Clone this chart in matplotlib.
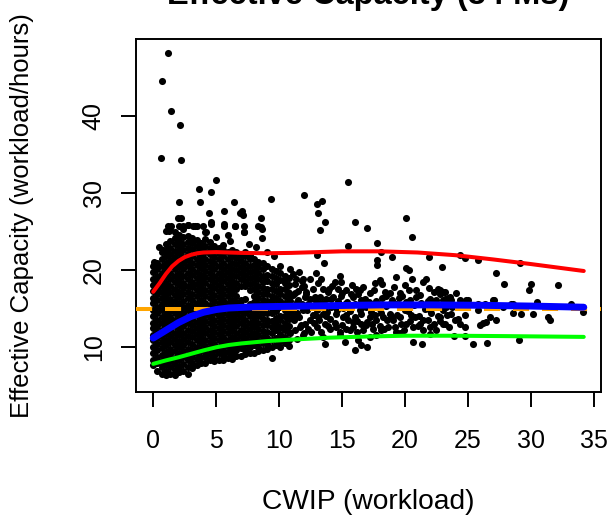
import numpy as np
import matplotlib
matplotlib.use("Agg")
import matplotlib.pyplot as plt

plt.rcParams['font.family'] = ['Liberation Sans', 'DejaVu Sans']

# ---------------- data ----------------
# dense cloud at low CWIP: column x-values and the y-values read in each column
blob_x = [0.00, 0.33, 0.68, 1.02, 1.37, 1.70, 2.05, 2.40, 2.75, 3.10, 3.45, 3.80,
          4.15, 4.50, 4.85, 5.20, 5.55, 5.90, 6.25, 6.60, 6.95, 7.30, 7.65, 8.00,
          8.35, 8.70, 9.05, 9.40, 9.75, 10.10, 10.45, 10.80]
blob_y = [
    "7.7 8.4 9.3 10.0 10.9 11.6 12.5 13.2 14.1 14.8 15.7 16.4 17.3 18.1 18.9 19.8 20.6",
    "6.9 7.9 8.7 9.6 10.4 11.2 12.0 12.8 13.6 14.5 15.2 16.1 16.9 17.6 18.5 19.2 20.1 21.0",
    "6.5 7.4 8.2 9.0 9.9 10.7 11.5 12.3 13.2 13.9 14.8 15.6 16.4 17.2 18.0 18.9 19.7 20.6 21.4 22.3",
    "6.4 6.9 7.8 8.6 9.4 10.3 11.0 11.9 12.7 13.5 14.3 15.1 16.0 16.8 17.6 18.4 19.2 20.1 20.9 21.8 22.6 23.4 25.1",
    "6.6 7.4 8.2 9.1 9.8 10.7 11.5 12.3 13.1 13.9 14.7 15.6 16.3 17.2 18.0 18.8 19.6 20.5 21.3 22.1 22.9 23.8 25.5",
    "6.4 7.0 7.8 8.6 9.5 10.3 11.1 11.9 12.8 13.5 14.4 15.2 16.0 16.8 17.6 18.5 19.2 20.1 20.9 21.7 22.5 23.4 24.2 25.0",
    "6.8 7.5 8.3 9.1 10.0 10.7 11.6 12.4 13.2 14.0 14.8 15.6 16.5 17.2 18.1 18.9 19.7 20.5 21.3 22.2 23.0 23.8 24.6 25.7",
    "6.9 7.8 8.7 9.5 10.3 11.1 11.9 12.8 13.6 14.4 15.2 16.0 16.9 17.7 18.4 19.3 20.1 20.9 21.7 22.6 23.4 24.3 25.4",
    "6.6 7.4 8.3 9.0 9.8 10.7 11.5 12.3 13.1 13.9 14.8 15.5 16.4 17.2 18.0 18.8 19.6 20.5 21.3 22.1 22.9 23.7 24.5 25.9",
    "7.3 8.0 8.8 9.6 10.4 11.3 12.1 12.9 13.7 14.5 15.3 16.1 16.9 17.8 18.5 19.4 20.2 21.0 21.8 22.7 23.5 24.2",
    "7.7 8.5 9.3 10.1 10.9 11.7 12.5 13.3 14.2 15.0 15.7 16.6 17.4 18.2 19.0 19.8 20.7 21.4 22.3 23.1 23.9 25.7",
    "7.9 8.8 9.6 10.5 11.3 12.1 12.9 13.7 14.5 15.4 16.2 17.0 17.8 18.6 19.4 20.3 21.1 21.8 22.7 23.5",
    "8.0 8.7 9.4 10.2 11.0 11.8 12.6 13.4 14.2 15.0 15.8 16.7 17.4 18.3 19.1 19.9 20.7 21.5 22.3 23.1 24.0 25.0",
    "8.3 9.1 9.9 10.7 11.5 12.3 13.1 13.9 14.7 15.5 16.4 17.2 18.0 18.8 19.6 20.4 21.2 22.1 22.9 23.6",
    "8.2 8.9 9.6 10.4 11.2 12.0 12.8 13.6 14.4 15.2 16.0 16.8 17.7 18.5 19.3 20.1 20.9 21.7 22.5 23.2",
    "8.4 9.3 10.1 10.9 11.7 12.5 13.3 14.1 14.9 15.7 16.5 17.3 18.1 18.9 19.7 20.5 21.4 22.2 22.9",
    "8.4 9.0 9.7 10.5 11.3 12.1 12.9 13.7 14.5 15.3 16.1 16.9 17.7 18.6 19.4 20.2 21.0 21.8 22.6 23.3",
    "8.6 9.4 10.2 11.0 11.8 12.6 13.4 14.2 15.0 15.8 16.6 17.4 18.2 19.0 19.8 20.6 21.4 22.3",
    "8.5 9.1 9.8 10.6 11.4 12.2 13.0 13.8 14.6 15.4 16.2 17.0 17.8 18.6 19.4 20.2 21.0 21.8 22.6",
    "8.9 9.6 10.3 11.1 11.9 12.7 13.5 14.3 15.1 15.9 16.7 17.5 18.4 19.2 20.0 20.8 21.6 22.3",
    "8.9 9.9 10.7 11.5 12.3 13.1 13.9 14.7 15.5 16.2 18.0 18.8 19.6 20.4 21.2 22.0",
    "9.1 9.6 10.4 11.2 12.0 12.8 13.6 14.4 15.2 16.3 17.9 18.6 19.4 20.2 21.0 21.8 22.4",
    "9.3 10.0 10.8 11.6 12.4 13.2 14.0 14.8 15.6 17.4 18.2 19.0 19.8 20.6 21.4 22.0",
    "9.2 10.3 11.1 11.9 12.7 13.5 14.3 15.1 15.9 16.7 17.5 18.3 19.1 19.9 20.7 21.5",
    "9.5 10.0 10.8 11.6 12.4 13.2 14.0 14.8 15.6 16.4 17.2 18.0 18.8 19.6 20.4 21.1",
    "9.6 10.5 11.3 12.1 12.9 13.7 14.5 15.3 16.1 16.9 17.7 18.5 19.3 20.1 20.9",
    "9.8 10.4 11.2 12.0 12.9 13.6 14.5 15.2 16.0 16.9 17.6 18.6 19.4 20.5",
    "8.6 10.1 10.9 11.9 12.6 13.4 14.4 15.1 16.0 16.7 17.5 18.3 19.3 20.1",
    "10.3 11.2 12.2 13.0 13.8 14.7 15.5 16.4 17.3 18.2 19.0 19.9",
    "10.1 10.8 11.7 12.6 13.5 14.1 15.2 16.0 16.9 17.6 18.7 19.7 20.5",
    "10.6 11.4 12.3 13.2 14.0 14.9 15.7 16.6 17.5 18.4 19.2",
    "10.2 11.0 12.0 12.8 13.7 14.6 15.4 16.3 17.1 18.1 19.0",
]

# scattered points above the dense cloud
upper_x = [1.19, 0.69, 1.40, 2.12, 0.61, 2.17, 4.97, 3.65, 4.60, 2.07, 3.71, 6.40, 9.37,
           5.61, 4.45, 6.88, 7.04, 2.20, 8.57, 1.14, 1.38, 2.38, 2.78, 3.12, 3.97, 4.58,
           5.64, 6.51, 7.23, 8.34, 8.57, 3.30, 4.20, 7.20, 8.60, 5.00, 5.90, 6.10, 7.60,
           8.20, 9.00, 9.60, 0.45, 0.75, 0.05, 0.10, 1.27, 1.95, 4.60, 5.60, 7.10, 8.60,
           6.50, 7.20]
upper_y = [48.2, 44.6, 40.6, 38.8, 34.5, 34.3, 31.7, 30.5, 30.1, 28.9, 28.9, 28.8, 29.2,
           27.7, 27.4, 27.4, 27.7, 26.8, 26.8, 25.8, 25.8, 25.8, 25.9, 25.8, 25.8, 26.0,
           25.8, 25.8, 25.8, 25.7, 25.6, 25.7, 25.0, 24.9, 24.2, 24.3, 24.6, 23.8, 23.4,
           23.0, 22.4, 21.8, 23.0, 22.6, 21.1, 20.8, 25.1, 26.8, 26.2, 26.0, 27.2, 25.4,
           25.7, 24.9]

# mid range points
mid_x = [15.48, 11.96, 13.00, 13.40, 13.05, 13.65, 13.26, 16.01, 16.99, 20.06, 20.53, 17.78,
         15.48, 12.97, 13.55, 17.78, 17.78, 18.10, 18.97, 21.90, 22.90,
         11.11, 11.38, 11.91, 12.44, 11.25, 11.78, 12.17, 12.04, 11.11, 11.51, 12.44, 12.83,
         13.36, 13.50, 13.23, 13.76, 14.29, 14.42, 14.95, 14.69, 15.35, 16.14, 16.41, 15.88,
         16.54, 15.22, 14.16, 13.50, 13.10, 12.70, 12.44, 12.04, 11.64, 11.25, 11.91, 12.97,
         13.63, 14.02, 14.55, 15.08, 15.48, 16.01, 16.54, 17.20, 17.73, 18.26, 18.79, 19.05,
         19.58, 20.11, 20.64, 21.17, 21.43, 21.96, 22.49, 23.02, 22.75, 23.28, 22.62, 23.02,
         22.49, 21.96, 21.43, 21.70, 20.90, 20.59, 20.32, 20.11, 19.98, 19.32, 18.52, 18.20,
         17.99, 18.79, 19.58, 20.37, 17.46, 16.93, 17.99, 18.65, 18.13, 17.46, 16.93, 16.54,
         15.88, 15.35, 14.82, 14.02, 17.73, 19.32, 17.20, 16.27, 15.22,
         13.68, 16.01, 16.99, 16.54, 20.64, 21.38,
         11.0, 11.4, 11.8, 12.2, 12.6, 13.0, 13.4, 13.8, 14.3, 14.7, 15.1, 15.6, 16.0, 16.4,
         16.8, 17.3, 17.7, 18.1, 18.5, 19.0, 19.4, 19.8, 20.2, 20.7, 21.1, 21.6, 22.1, 22.5,
         23.0, 23.4, 11.2, 11.7, 12.3, 12.8, 13.3, 13.9, 14.4, 15.0, 15.6, 16.2, 16.7, 17.4,
         18.0, 18.6, 19.2, 19.9, 20.4, 21.0, 21.8, 22.3, 11.5, 12.0, 12.7, 13.1, 13.9, 14.2,
         15.0, 15.8, 16.7, 17.2, 17.6, 18.4, 19.1, 19.6, 20.3, 21.2, 21.9, 22.8, 10.5, 10.9,
         11.6, 12.9, 14.8, 21.96, 22.75, 23.02, 23.55]
mid_y = [31.4, 29.8, 28.6, 29.0, 27.4, 26.2, 25.2, 26.2, 25.5, 26.8, 24.3, 23.5,
         23.1, 21.95, 20.96, 21.3, 20.7, 22.4, 21.7, 21.7, 20.4,
         19.57, 18.92, 18.92, 18.92, 18.27, 17.84, 17.19, 16.54, 16.76, 16.11, 16.32, 16.54,
         18.92, 17.62, 16.54, 16.32, 16.54, 18.49, 18.49, 17.62, 17.41, 17.62, 17.41, 16.54,
         16.11, 15.67, 15.24, 14.38, 13.94, 14.16, 13.51, 13.08, 12.65, 12.21, 11.56, 12.65,
         13.08, 13.73, 14.38, 13.94, 13.51, 13.94, 14.38, 13.94, 13.51, 13.94, 14.38, 13.51,
         13.94, 13.08, 12.65, 13.08, 12.21, 12.65, 12.21, 13.08, 13.94, 15.24, 17.62, 17.19,
         16.11, 16.32, 18.49, 18.84, 17.41, 18.88, 20.0, 20.35, 18.06, 19.14, 16.63, 18.19,
         18.71, 15.67, 15.24, 16.11, 15.67, 15.24, 15.03, 12.65, 12.21, 12.43, 12.86, 13.08,
         12.65, 12.43, 12.0, 12.43, 11.56, 12.0, 11.35, 10.91, 10.70,
         10.39, 9.62, 10.05, 10.26, 10.70, 10.48,
         15.0, 14.4, 15.6, 14.8, 15.4, 14.9, 15.8, 14.6, 15.3, 16.0, 15.1, 14.7, 15.6, 14.9,
         16.3, 14.6, 16.0, 14.4, 15.4, 16.2, 14.2, 16.7, 14.7, 15.5, 14.1, 15.0, 14.5, 15.8,
         14.8, 16.4, 13.5, 12.9, 12.4, 13.2, 12.0, 12.8, 13.2, 12.9, 12.2, 13.4, 12.3, 13.0,
         12.8, 13.6, 12.6, 12.3, 13.4, 12.8, 13.5, 13.0, 17.3, 17.9, 17.5, 18.3, 17.2, 18.0,
         17.0, 18.1, 17.8, 17.0, 18.4, 17.2, 17.8, 17.0, 17.4, 16.8, 17.7, 16.9, 18.7, 20.2,
         19.8, 19.6, 19.3, 16.1, 17.4, 16.1, 16.5]

# more mid range points in the band around the mean
mid2_x = [10.3, 10.6, 10.9, 11.3, 11.6, 11.9, 12.1, 12.5, 12.9, 13.2, 13.6, 14.0, 14.5, 14.9,
          15.3, 15.7, 16.2, 16.6, 17.0, 17.5, 17.9, 18.3, 18.8, 19.3, 19.7, 20.1, 20.5, 20.9,
          21.4, 21.8, 22.3, 22.8, 23.3, 23.7, 10.4, 10.7, 11.1, 11.4, 11.8, 12.3, 12.8, 13.7,
          14.1, 14.6, 15.4, 15.9, 16.3, 17.1, 17.6, 18.2, 18.9, 19.5, 20.0, 20.8, 21.3, 22.0,
          22.6, 12.0, 13.5, 14.8, 10.2, 10.9, 11.4, 19.6, 22.0, 23.5]
mid2_y = [12.5, 13.8, 16.0, 17.0, 13.9, 14.9, 16.9, 12.0, 16.0, 13.6, 15.3, 17.6, 12.6, 16.6,
          14.2, 16.9, 12.0, 15.2, 13.3, 17.4, 15.6, 12.4, 17.0, 15.6, 13.0, 15.9, 14.2, 16.5,
          13.6, 16.0, 17.2, 13.4, 14.2, 15.2, 15.3, 17.2, 14.2, 15.9, 18.6, 15.6, 14.2, 14.0,
          16.3, 14.9, 15.9, 13.3, 16.9, 15.9, 14.2, 16.4, 14.0, 16.4, 14.9, 13.9, 15.8, 14.9,
          14.0, 11.9, 11.3, 11.6, 11.4, 11.8, 11.1, 11.8, 11.7, 12.6]

# high range points
right_x = [24.34, 24.79, 25.80, 29.16, 27.25, 27.86, 29.82, 29.98, 32.14, 33.20, 34.13, 30.50,
           31.35, 31.48, 28.57, 28.57, 29.23, 30.16, 27.07, 27.20, 26.72, 25.93, 26.19, 26.46,
           23.15, 23.15, 23.15, 23.68, 24.02, 24.34, 25.00, 23.68, 23.94, 24.21, 24.34, 24.79,
           24.79, 23.89, 24.74, 25.40, 26.51, 29.02, 25.80, 26.33, 26.99, 27.78, 28.44, 24.87,
           25.80, 26.99]
right_y = [21.95, 21.6, 21.3, 21.0, 19.7, 18.19, 17.49, 18.19, 18.06, 15.59, 14.59, 15.94,
           13.94, 13.51, 15.67, 14.46, 14.38, 14.29, 16.11, 13.6, 13.94, 12.86, 13.2, 13.29,
           17.19, 16.32, 13.08, 16.11, 17.06, 16.11, 16.2, 14.38, 13.51, 13.73, 13.08, 14.16,
           12.65, 11.48, 11.43, 10.48, 10.57, 10.91, 15.67, 15.59, 15.67, 15.24, 15.59, 16.1,
           14.8, 16.1]

# fitted curves
curve_upper_x = [0, 0.5, 1, 1.5, 2, 2.5, 3, 3.5, 4, 5, 7, 9, 11, 15, 18, 21, 24, 27, 30, 34.2]
curve_upper_y = [17.2, 18.3, 19.5, 20.5, 21.2, 21.7, 22.0, 22.2, 22.3, 22.35, 22.25, 22.2,
                 22.25, 22.45, 22.45, 22.3, 21.95, 21.4, 20.8, 19.9]
curve_mean_x = [0, 1, 2, 3, 4, 5, 6, 8, 10, 14, 18, 22, 26, 30, 34.2]
curve_mean_y = [11.2, 12.2, 13.2, 14.0, 14.55, 14.9, 15.1, 15.25, 15.3, 15.4, 15.5, 15.5,
                15.45, 15.35, 15.2]
curve_lower_x = [0, 1, 2, 3, 4, 5, 6, 7, 9, 11, 14, 17, 20, 24, 28, 34.2]
curve_lower_y = [7.85, 8.3, 8.7, 9.15, 9.6, 10.0, 10.3, 10.5, 10.8, 11.0, 11.25, 11.4, 11.5,
                 11.5, 11.45, 11.35]
overall_level = 14.93

x_ticks = [0, 5, 10, 15, 20, 25, 30, 35]
y_ticks = [10, 20, 30, 40]

# ---------------- assemble points ----------------
px, py = [], []
for xc, ys in zip(blob_x, blob_y):
    for v in ys.split():
        px.append(xc)
        py.append(float(v))
px += upper_x + mid_x + mid2_x + right_x
py += upper_y + mid_y + mid2_y + right_y

# ---------------- figure ----------------
fig = plt.figure(figsize=(6.16, 5.2), dpi=100)
ax = fig.add_axes([136/616, 1 - 392/520, (601-136)/616, (392-39)/520])

ax.scatter(px, py, s=26, c='black', linewidths=0, zorder=2)
ax.axhline(overall_level, color='#FFA500', lw=2.9, dashes=(4, 3.2), zorder=3)
ax.plot(curve_upper_x, curve_upper_y, color='#FF0000', lw=2.9, solid_capstyle='round', zorder=4)
ax.plot(curve_lower_x, curve_lower_y, color='#00FF00', lw=2.9, solid_capstyle='round', zorder=4)
ax.plot(curve_mean_x, curve_mean_y, color='#0000FF', lw=5.0, solid_capstyle='round', zorder=5)

ax.set_xlim(-1.37, 35.57)
ax.set_ylim(4.2, 50.0)
ax.set_xticks(x_ticks)
ax.set_yticks(y_ticks)
ax.set_xticklabels([str(t) for t in x_ticks])
ax.set_yticklabels([str(t) for t in y_ticks], rotation=90, va='center')

for sp in ax.spines.values():
    sp.set_linewidth(1.4)
ax.tick_params(axis='both', direction='out', length=10.8, width=1.4, labelsize=18)
ax.tick_params(axis='x', pad=16)
ax.tick_params(axis='y', pad=11)

ax.set_xlabel('CWIP (workload)', fontsize=20.3, labelpad=26)
ax.set_ylabel('Effective Capacity (workload/hours)', fontsize=18.5, labelpad=34)

fig.text(368.5/616, 1 - 4/520, 'Effective Capacity (34 Ms)', ha='center', va='baseline',
         fontsize=23.5, fontweight='bold')

fig.savefig('out.png', dpi=100)
